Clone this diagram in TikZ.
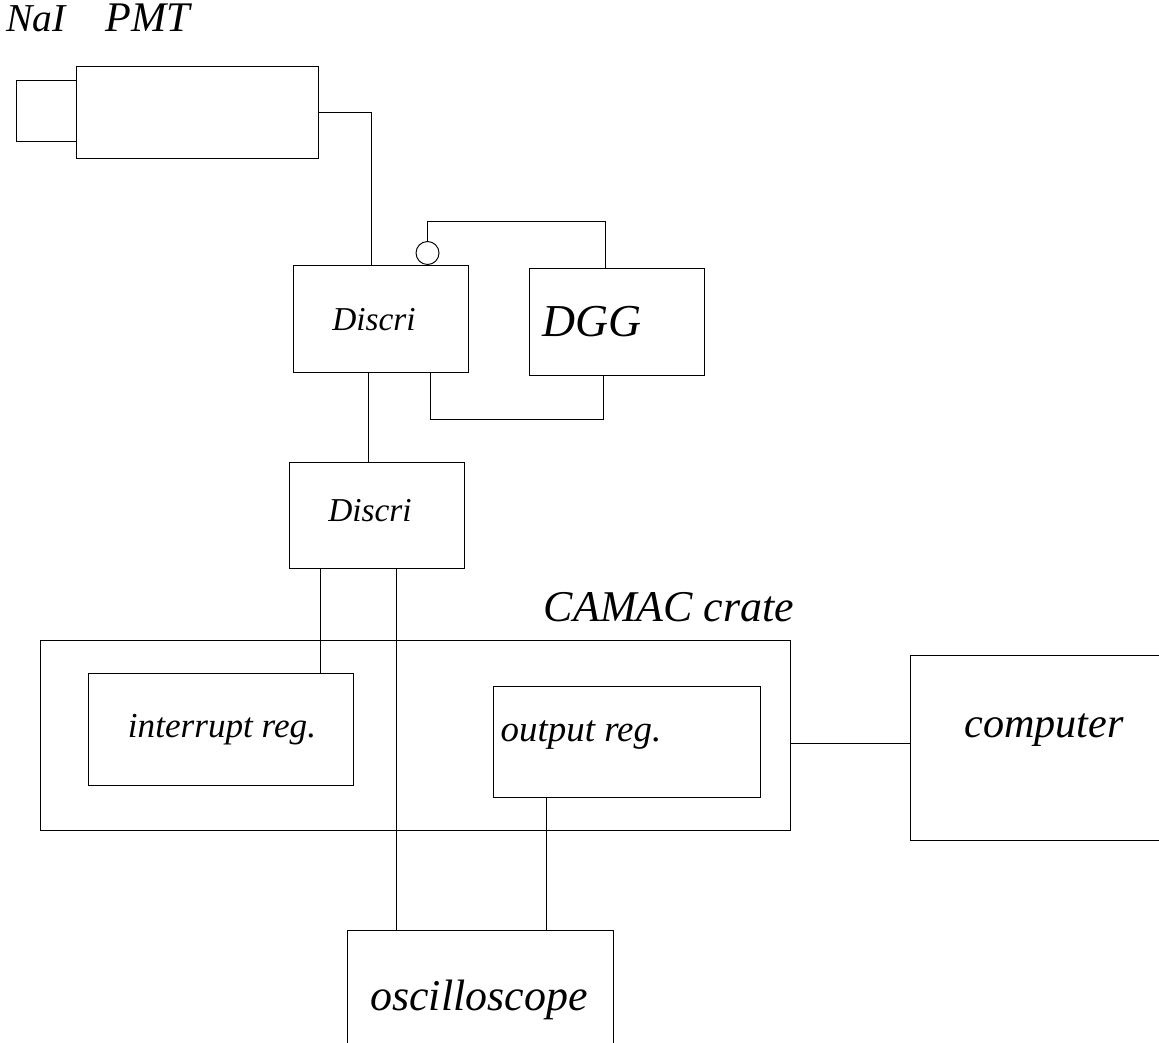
\documentclass[tikz,border=0pt]{standalone}
\usepackage{fontspec}
\setmainfont{Liberation Serif}
\usetikzlibrary{calc}
\tikzset{
  box/.style={draw, rectangle, inner sep=0pt, line width=0.55pt},
  lbl/.style={inner sep=0pt, font=\itshape},
  wire/.style={line width=0.55pt},
}
\newcommand{\fs}[1]{\fontsize{#1}{#1}\selectfont}
\begin{document}
\begin{tikzpicture}[x=0.02cm, y=-0.02cm]
\useasboundingbox (0,0) rectangle (1159,1043);
\clip (0,0) rectangle (1159,1043);
% detector
\node[box, minimum width={60*0.02cm}, minimum height={61*0.02cm}] (NaI) at (46,110.5) {};
\node[box, minimum width={242*0.02cm}, minimum height={92*0.02cm}] (PMT) at (197,112) {};
\node[lbl, font=\itshape\fs{22.5pt}] (NaIt) at (36,19) {NaI};
\node[lbl, font=\itshape\fs{24pt}] (PMTt) at (148,18) {PMT};
% discriminators and DGG
\node[box, minimum width={175*0.02cm}, minimum height={107*0.02cm}] (D1) at (380.5,318.5) {};
\node[lbl, font=\itshape\fs{19pt}] (D1t) at (374,320) {Discri};
\node[box, minimum width={175*0.02cm}, minimum height={107*0.02cm}] (DGG) at (616.5,321.5) {};
\node[lbl, font=\itshape\fs{26pt}] (DGGt) at (592,322) {DGG};
\node[box, minimum width={175*0.02cm}, minimum height={106*0.02cm}] (D2) at (376.5,515) {};
\node[lbl, font=\itshape\fs{19pt}] (D2t) at (370,511) {Discri};
\node[box, circle, minimum size={23*0.02cm}] (inv) at ($(D1.north west)+(135,-11.5)$) {};
% CAMAC
\node[box, minimum width={750*0.02cm}, minimum height={190*0.02cm}] (crate) at (415,735) {};
\node[lbl, font=\itshape\fs{25pt}] (cratet) at (669,607) {CAMAC crate};
\node[box, minimum width={265*0.02cm}, minimum height={112*0.02cm}] (IR) at (220.5,729) {};
\node[lbl, font=\itshape\fs{20pt}] (IRt) at (222,730) {interrupt reg.};
\node[box, minimum width={267*0.02cm}, minimum height={111*0.02cm}] (OR) at (626.5,741.5) {};
\node[lbl, font=\itshape\fs{21pt}] (ORt) at (581,735) {output reg.};
% computer and oscilloscope
\node[box, minimum width={300*0.02cm}, minimum height={185*0.02cm}] (comp) at (1060,747.5) {};
\node[lbl, font=\itshape\fs{24pt}] (compt) at (1044,730) {computer};
\node[box, minimum width={266*0.02cm}, minimum height={170*0.02cm}] (osc) at (480,1015) {};
\node[lbl, font=\itshape\fs{25pt}] (osct) at (479,1000) {oscilloscope};
% connectors
\draw[wire] (PMT.east) -| ($(D1.north west)+(79,0)$);
\draw[wire] (inv.north) -- ++(0,-19.5) -| ($(DGG.north west)+(77,0)$);
\draw[wire] ($(D1.south west)+(138,0)$) -- ++(0,47) -| ($(DGG.south west)+(75,0)$);
\coordinate (a1) at ($(D1.south west)+(76,0)$);
\draw[wire] (a1) -- (a1 |- D2.north);
\coordinate (a2) at ($(D2.south west)+(32,0)$);
\draw[wire] (a2) -- (a2 |- IR.north);
\coordinate (a3) at ($(D2.south west)+(108,0)$);
\draw[wire] (a3) -- (a3 |- osc.north);
\coordinate (a4) at ($(OR.south west)+(54,0)$);
\draw[wire] (a4) -- (a4 |- osc.north);
\coordinate (a5) at ($(crate.east)+(0,8)$);
\draw[wire] (a5) -- (a5 -| comp.west);
\end{tikzpicture}
\end{document}
